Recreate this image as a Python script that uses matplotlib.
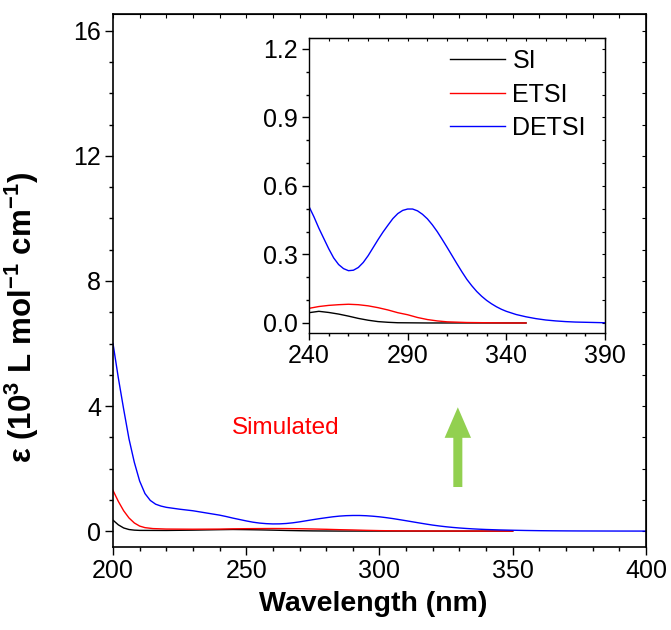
import matplotlib
matplotlib.use("Agg")
import matplotlib.pyplot as plt
from matplotlib.ticker import MultipleLocator, FixedLocator, FormatStrFormatter

plt.rcParams['font.family'] = ['Liberation Sans', 'DejaVu Sans']
plt.rcParams['mathtext.fontset'] = 'custom'
plt.rcParams['mathtext.rm'] = 'Liberation Sans'
plt.rcParams['mathtext.bf'] = 'Liberation Sans:bold'
plt.rcParams['mathtext.it'] = 'Liberation Sans:italic'

# ---- data ----
wl_detsi = [200, 202, 204, 206, 208, 210, 212, 214, 216, 218, 220, 225, 230, 235,
            240, 242.5, 245, 247.5, 250, 252.5, 255, 257.5, 260, 262.5, 265, 267.5,
            270, 272.5, 275, 277.5, 280, 282.5, 285, 287.5, 290, 292.5, 295, 297.5,
            300, 302.5, 305, 307.5, 310, 312.5, 315, 317.5, 320, 322.5, 325, 327.5,
            330, 332.5, 335, 337.5, 340, 345, 350, 355, 360, 365, 370, 375, 380, 390, 400]
eps_detsi = [6.0, 4.9, 3.9, 2.95, 2.2, 1.6, 1.2, 0.98, 0.86, 0.80, 0.76, 0.70, 0.65, 0.58,
             0.51, 0.465, 0.415, 0.37, 0.325, 0.285, 0.256, 0.238, 0.229, 0.231, 0.243, 0.265,
             0.295, 0.33, 0.365, 0.398, 0.428, 0.457, 0.479, 0.493, 0.499, 0.499, 0.491, 0.476,
             0.456, 0.43, 0.40, 0.366, 0.331, 0.295, 0.259, 0.224, 0.191, 0.163, 0.138, 0.117,
             0.099, 0.084, 0.071, 0.060, 0.051, 0.037, 0.027, 0.019, 0.013, 0.009, 0.006, 0.004, 0.003, 0.001, 0.0]

wl_etsi = [200, 202, 204, 206, 208, 210, 212, 215, 220, 230, 240, 245, 250, 255, 260,
           265, 270, 275, 280, 285, 290, 295, 300, 305, 310, 320, 330, 340, 350]
eps_etsi = [1.3, 0.95, 0.65, 0.42, 0.26, 0.16, 0.11, 0.08, 0.065, 0.06, 0.064, 0.072, 0.077, 0.080, 0.082,
            0.080, 0.075, 0.067, 0.057, 0.045, 0.036, 0.024, 0.015, 0.009, 0.005, 0.002, 0.001, 0.0, 0.0]

wl_si = [200, 202, 204, 206, 208, 210, 220, 230, 240, 245, 250, 255, 260, 265, 270,
         275, 280, 285, 300, 350]
eps_si = [0.35, 0.20, 0.10, 0.05, 0.03, 0.022, 0.02, 0.03, 0.045, 0.051, 0.046, 0.039, 0.030, 0.020, 0.012,
          0.006, 0.003, 0.001, 0.0, 0.0]

series_labels = ['SI', 'ETSI', 'DETSI']
series_colors = ['black', 'red', 'blue']
inset_xticks = [240, 290, 340, 390]

fig = plt.figure(figsize=(6.71, 6.30), dpi=100)
ax = fig.add_axes([0.1684, 0.1317, 0.9627 - 0.1684, 0.9778 - 0.1317])

data = [(wl_si, eps_si), (wl_etsi, eps_etsi), (wl_detsi, eps_detsi)]
for (x, y), c, lab in zip(data, series_colors, series_labels):
    ax.plot(x, y, color=c, lw=1.0, label=lab)

ax.set_xlim(200, 400)
ax.set_ylim(-0.51, 16.54)
ax.xaxis.set_major_locator(MultipleLocator(50))
ax.xaxis.set_minor_locator(MultipleLocator(10))
ax.yaxis.set_major_locator(MultipleLocator(4))
ax.yaxis.set_minor_locator(MultipleLocator(1))
ax.tick_params(which='major', direction='out', length=5.5, width=1, labelsize=18, pad=3)
ax.tick_params(which='minor', direction='out', length=2.8, width=1)
for s in ax.spines.values():
    s.set_linewidth(1.2)

secx = ax.secondary_xaxis('top')
secx.xaxis.set_major_locator(MultipleLocator(10))
secx.tick_params(which='major', direction='in', length=3, width=0.8, labeltop=False)
secy = ax.secondary_yaxis('right')
secy.yaxis.set_major_locator(MultipleLocator(1))
secy.tick_params(which='major', direction='in', length=3, width=0.8, labelright=False)

ax.set_xlabel('Wavelength (nm)', fontsize=20.5, fontweight='bold')
ax.xaxis.set_label_coords(0.488, -0.083)
ax.set_ylabel(r'$\boldsymbol{\varepsilon}$ (10$^{\mathbf{3}}$ L mol$^{\mathbf{-1}}$ cm$^{\mathbf{-1}}$)',
              fontsize=22.5, fontweight='bold')
ax.yaxis.set_label_coords(-0.135, 0.43)

ax.text(244.5, 3.3, 'Simulated', color='red', fontsize=17.5, va='center', ha='left')

ax.annotate('', xy=(329.4, 3.96), xytext=(329.4, 1.41),
            arrowprops=dict(width=6.5, headwidth=19, headlength=22, color='#92D050', lw=0))

# ---- inset ----
ins = fig.add_axes([0.4605, 0.4714, 0.9016 - 0.4605, 0.9397 - 0.4714])
for (x, y), c, lab in zip(data, series_colors, series_labels):
    xi = [a for a in x if a >= 240]
    yi = [b for a, b in zip(x, y) if a >= 240]
    ins.plot(xi, yi, color=c, lw=1.0, label=lab)
ins.set_xlim(240, 390)
ins.set_ylim(-0.044, 1.248)
ins.xaxis.set_major_locator(FixedLocator(inset_xticks))
ins.xaxis.set_minor_locator(MultipleLocator(10))
ins.yaxis.set_major_locator(MultipleLocator(0.3))
ins.yaxis.set_minor_locator(MultipleLocator(0.1))
ins.yaxis.set_major_formatter(FormatStrFormatter('%.1f'))
ins.tick_params(which='major', direction='out', length=5, width=1, labelsize=18, pad=3)
ins.tick_params(which='minor', direction='out', length=2.5, width=1)
for s in ins.spines.values():
    s.set_linewidth(1.0)
sx = ins.secondary_xaxis('top')
sx.xaxis.set_major_locator(MultipleLocator(10))
sx.tick_params(which='major', direction='in', length=2.5, width=0.8, labeltop=False)
sy = ins.secondary_yaxis('right')
sy.yaxis.set_major_locator(MultipleLocator(0.1))
sy.tick_params(which='major', direction='in', length=2.5, width=0.8, labelright=False)

ins.legend(loc='upper left', bbox_to_anchor=(0.476, 0.962), frameon=False, fontsize=18,
           handlelength=2.2, handletextpad=0.3, labelspacing=0.38, borderpad=0, borderaxespad=0)

fig.savefig('out.png', dpi=100)
